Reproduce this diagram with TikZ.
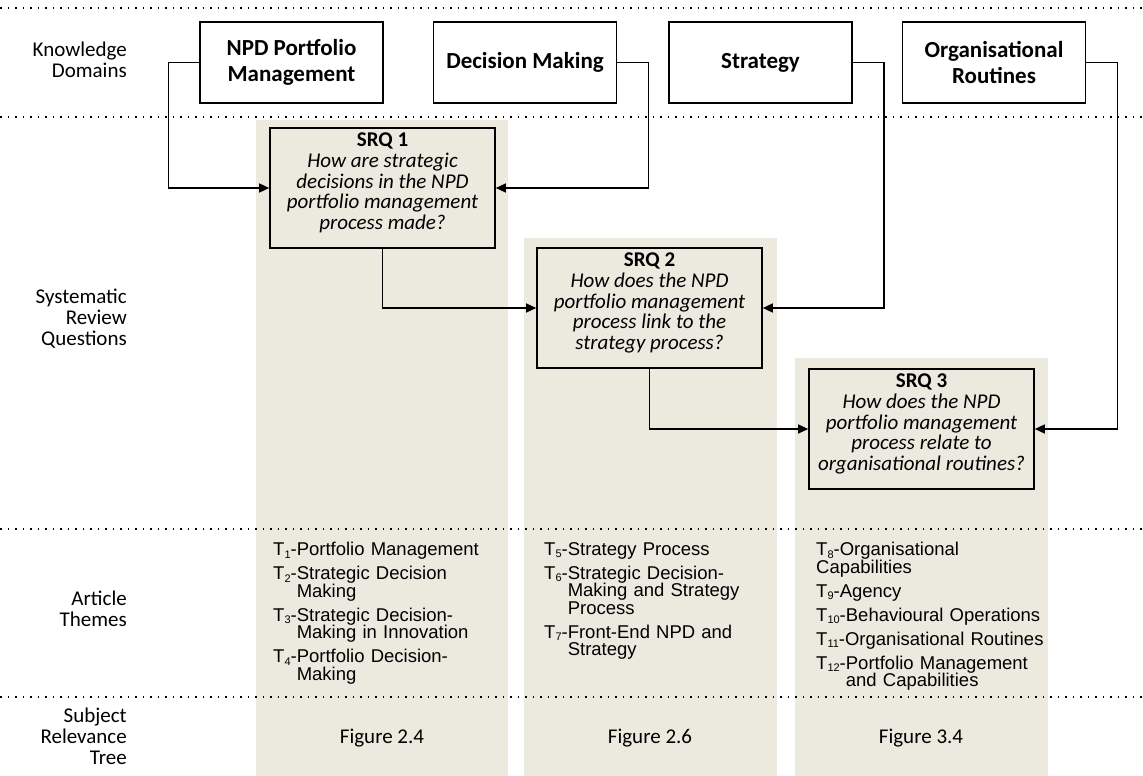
\documentclass[tikz,border=0pt]{standalone}
\usepackage{fontspec}
\setmainfont{Carlito}
\newfontfamily\themefont{Liberation Sans}
\usetikzlibrary{arrows.meta}
\definecolor{colbg}{RGB}{236,233,223}

% theme number written as a small lowered index
\newcommand\tsub[1]{\raisebox{-2.4pt}{\fontsize{11}{11}\selectfont #1}}
% one theme entry: T_n-label, wrapped lines hang under the label text
\newlength\themehang
\newcommand\themefirst[2]{\settowidth\themehang{T\tsub{#1}-}%
  \hangindent=\themehang\hangafter=1\noindent T\tsub{#1}-#2\par}
\newcommand\themeitem[2]{\vspace{6.5pt}\themefirst{#1}{#2}}

\begin{document}
\begin{tikzpicture}[x=1pt,y=-1pt,
  domainbox/.style={draw, line width=1.6pt, minimum width=183pt, minimum height=81pt,
    inner sep=0pt, align=center, font=\fontsize{23}{26}\selectfont\bfseries},
  srqbox/.style={draw, line width=1.6pt, fill=colbg, minimum width=225pt,
    minimum height=120pt, inner sep=0pt},
  srqtext/.style={align=center, inner sep=0pt, font=\fontsize{21}{20.7}\selectfont},
  rowlabel/.style={anchor=east, align=right, inner sep=0pt, font=\fontsize{21}{21}\selectfont},
  themes/.style={anchor=north west, inner sep=0pt, text width=240pt, align=left,
    font=\themefont\fontsize{18.5}{17.5}\selectfont},
  figref/.style={anchor=base, inner sep=0pt, font=\fontsize{21}{24}\selectfont},
  sep/.style={line width=1.5pt, dash pattern=on 1.5pt off 6pt},
  link/.style={line width=1.4pt, -{Triangle[length=10pt,width=9pt]}}
]
\useasboundingbox (0,0) rectangle (1143,776);

% shaded columns, one per review question
\fill[colbg] (256,120) rectangle (508,776);
\fill[colbg] (524,238) rectangle (777,776);
\fill[colbg] (795,358) rectangle (1048,776);

% row separators
\draw[sep] (0,8) -- (1143,8);
\draw[sep] (0,117) -- (1143,117);
\draw[sep] (0,529) -- (1143,529);
\draw[sep] (0,697) -- (1143,697);

% row labels
\node[rowlabel] (lblkd) at (127,60) {Knowledge\\Domains};
\node[rowlabel] (lblsrq) at (127,319) {Systematic\\Review\\Questions};
\node[rowlabel] (lblat) at (127,608.5) {Article\\Themes};
\node[rowlabel] (lblsrt) at (127,736.5) {Subject\\Relevance\\Tree};

% knowledge domains
\node[domainbox] (npd) at (291.5,62.5) {NPD Portfolio\\Management};
\node[domainbox] (dm) at (525,62.5) {Decision Making};
\node[domainbox] (str) at (760.5,62.5) {Strategy};
\node[domainbox] (org) at (994,62.5) {Organisational\\Routines};

% review questions
\node[srqbox] (srq1) at (382.5,188) {};
\node[srqbox] (srq2) at (649.5,308) {};
\node[srqbox] (srq3) at (921.5,429) {};
\node[srqtext] (srq1t) at ([yshift=5pt]srq1.center)
  {\textbf{SRQ 1}\\\itshape How are strategic\\\itshape decisions in the NPD\\\itshape portfolio management\\\itshape process made?};
\node[srqtext] (srq2t) at ([yshift=5pt]srq2.center)
  {\textbf{SRQ 2}\\\itshape How does the NPD\\\itshape portfolio management\\\itshape process link to the\\\itshape strategy process?};
\node[srqtext] (srq3t) at ([yshift=5pt]srq3.center)
  {\textbf{SRQ 3}\\\itshape How does the NPD\\\itshape portfolio management\\\itshape process relate to\\\itshape organisational routines?};

% connectors
\draw[link] (npd.west) -- ++(-31,0) |- (srq1.west);
\draw[link] (dm.east) -- ++(31,0) |- (srq1.east);
\draw[link] (srq1.south) |- (srq2.west);
\draw[link] (str.east) -- ++(31,0) |- (srq2.east);
\draw[link] (srq2.south) |- (srq3.west);
\draw[link] (org.east) -- ++(31,0) |- (srq3.east);

% article themes
\node[themes] (th1) at (273,542) {%
  \themefirst{1}{Portfolio Management}%
  \themeitem{2}{Strategic Decision\newline Making}%
  \themeitem{3}{Strategic Decision-\newline Making in Innovation}%
  \themeitem{4}{Portfolio Decision-\newline Making}};
\node[themes] (th2) at (544,542) {%
  \themefirst{5}{Strategy Process}%
  \themeitem{6}{Strategic Decision-\newline Making and Strategy\newline Process}%
  \themeitem{7}{Front-End NPD and\newline Strategy}};
\node[themes] (th3) at (816,542) {%
  \noindent T\tsub{8}-Organisational\newline Capabilities\par
  \themeitem{9}{Agency}%
  \themeitem{10}{Behavioural Operations}%
  \themeitem{11}{Organisational Routines}%
  \themeitem{12}{Portfolio Management\newline and Capabilities}};

% subject relevance trees
\node[figref] (fig1) at (382,743) {Figure 2.4};
\node[figref] (fig2) at (650,743) {Figure 2.6};
\node[figref] (fig3) at (921,743) {Figure 3.4};
\end{tikzpicture}
\end{document}
